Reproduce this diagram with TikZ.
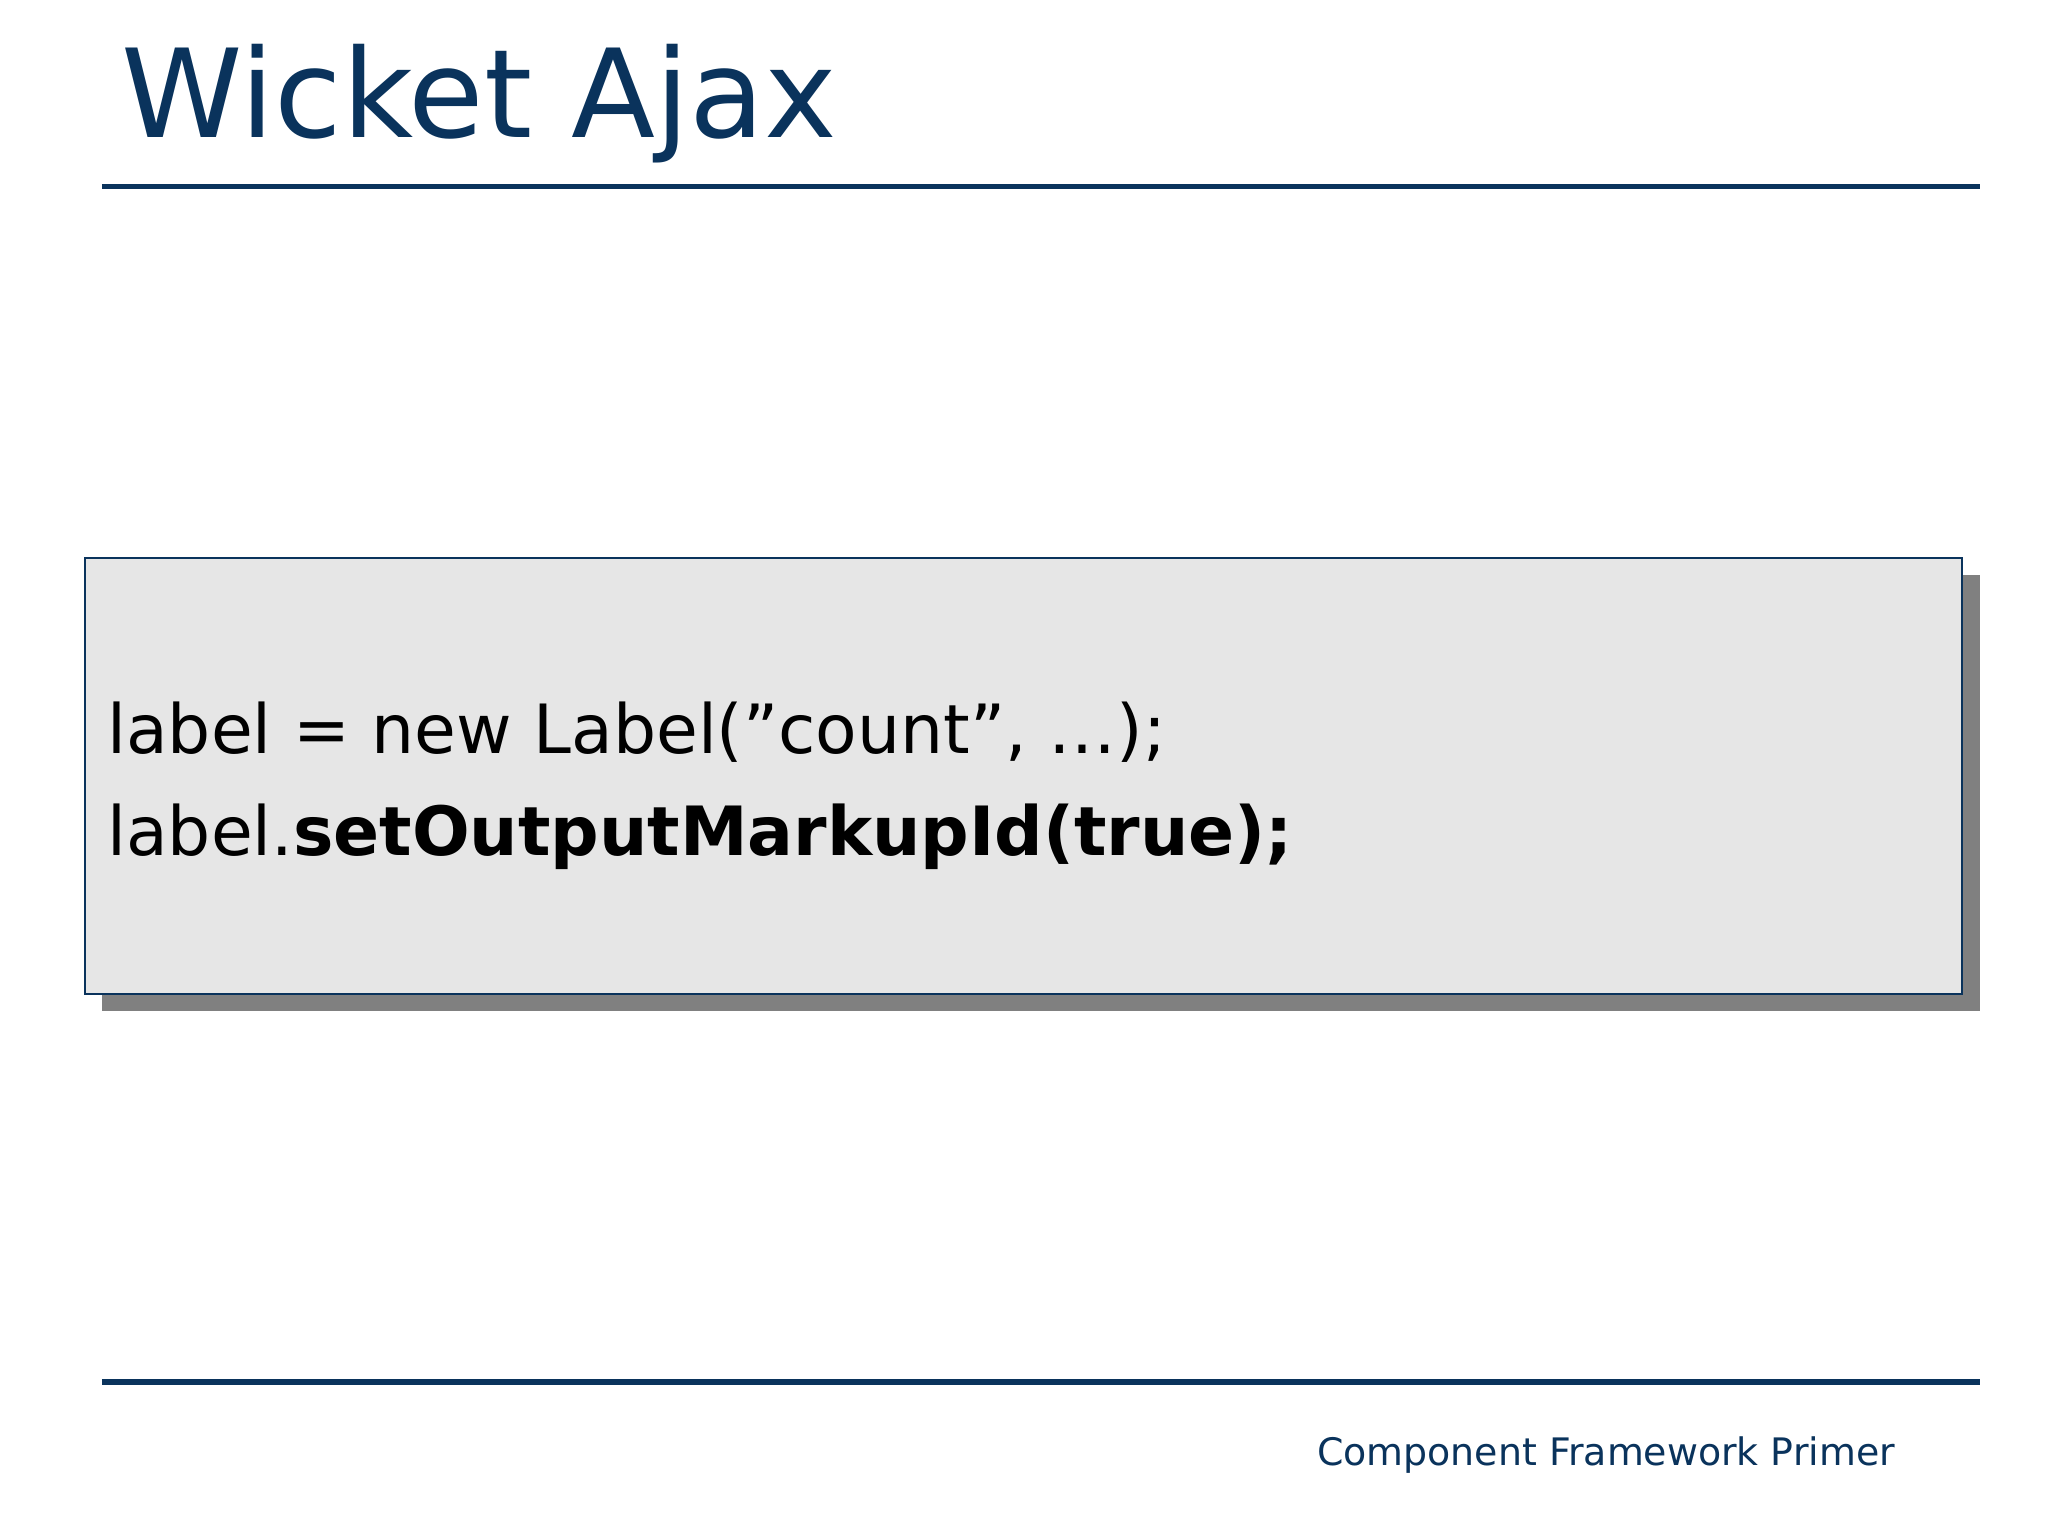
\documentclass[tikz,border=0pt]{standalone}
\usepackage{fontspec}
\setmainfont{DejaVu Sans}
\definecolor{navy}{RGB}{10,51,92}
\definecolor{boxgray}{RGB}{230,230,230}
\definecolor{shadowgray}{RGB}{128,128,128}
\begin{document}
\begin{tikzpicture}[x=1pt,y=-1pt]
\tikzset{rule/.style={draw=navy,line width=4pt}}
\useasboundingbox (0,0) rectangle (1568,1176);
\fill[white] (0,0) rectangle (1568,1176);
\node[anchor=base west,inner sep=0,text=navy,font=\fontsize{94}{100}\selectfont] (title) at (93,105) {Wicket Ajax};
\coordinate (t1) at (78,143); \coordinate (t2) at (1516,143);
\draw[rule] (t1) -- (t2);
\coordinate (b1) at (78,1058); \coordinate (b2) at (1516,1058);
\draw[rule] (b1) -- (b2);
\fill[shadowgray] (78,440) rectangle (1516,774);
\draw[navy,fill=boxgray,line width=1.2pt] (65,427) rectangle (1502,761);
\node[anchor=base west,inner sep=0,font=\fontsize{52}{60}\selectfont] (l1) at (82,577) {label = new Label("count", \dots);};
\node[anchor=base west,inner sep=0,font=\fontsize{52}{60}\selectfont] (l2) at (82,655) {label.\textbf{setOutputMarkupId(true);}};
\node[anchor=base east,inner sep=0,text=navy,font=\fontsize{29}{34}\selectfont] (foot) at (1451,1122) {Component Framework Primer};
\end{tikzpicture}
\end{document}
